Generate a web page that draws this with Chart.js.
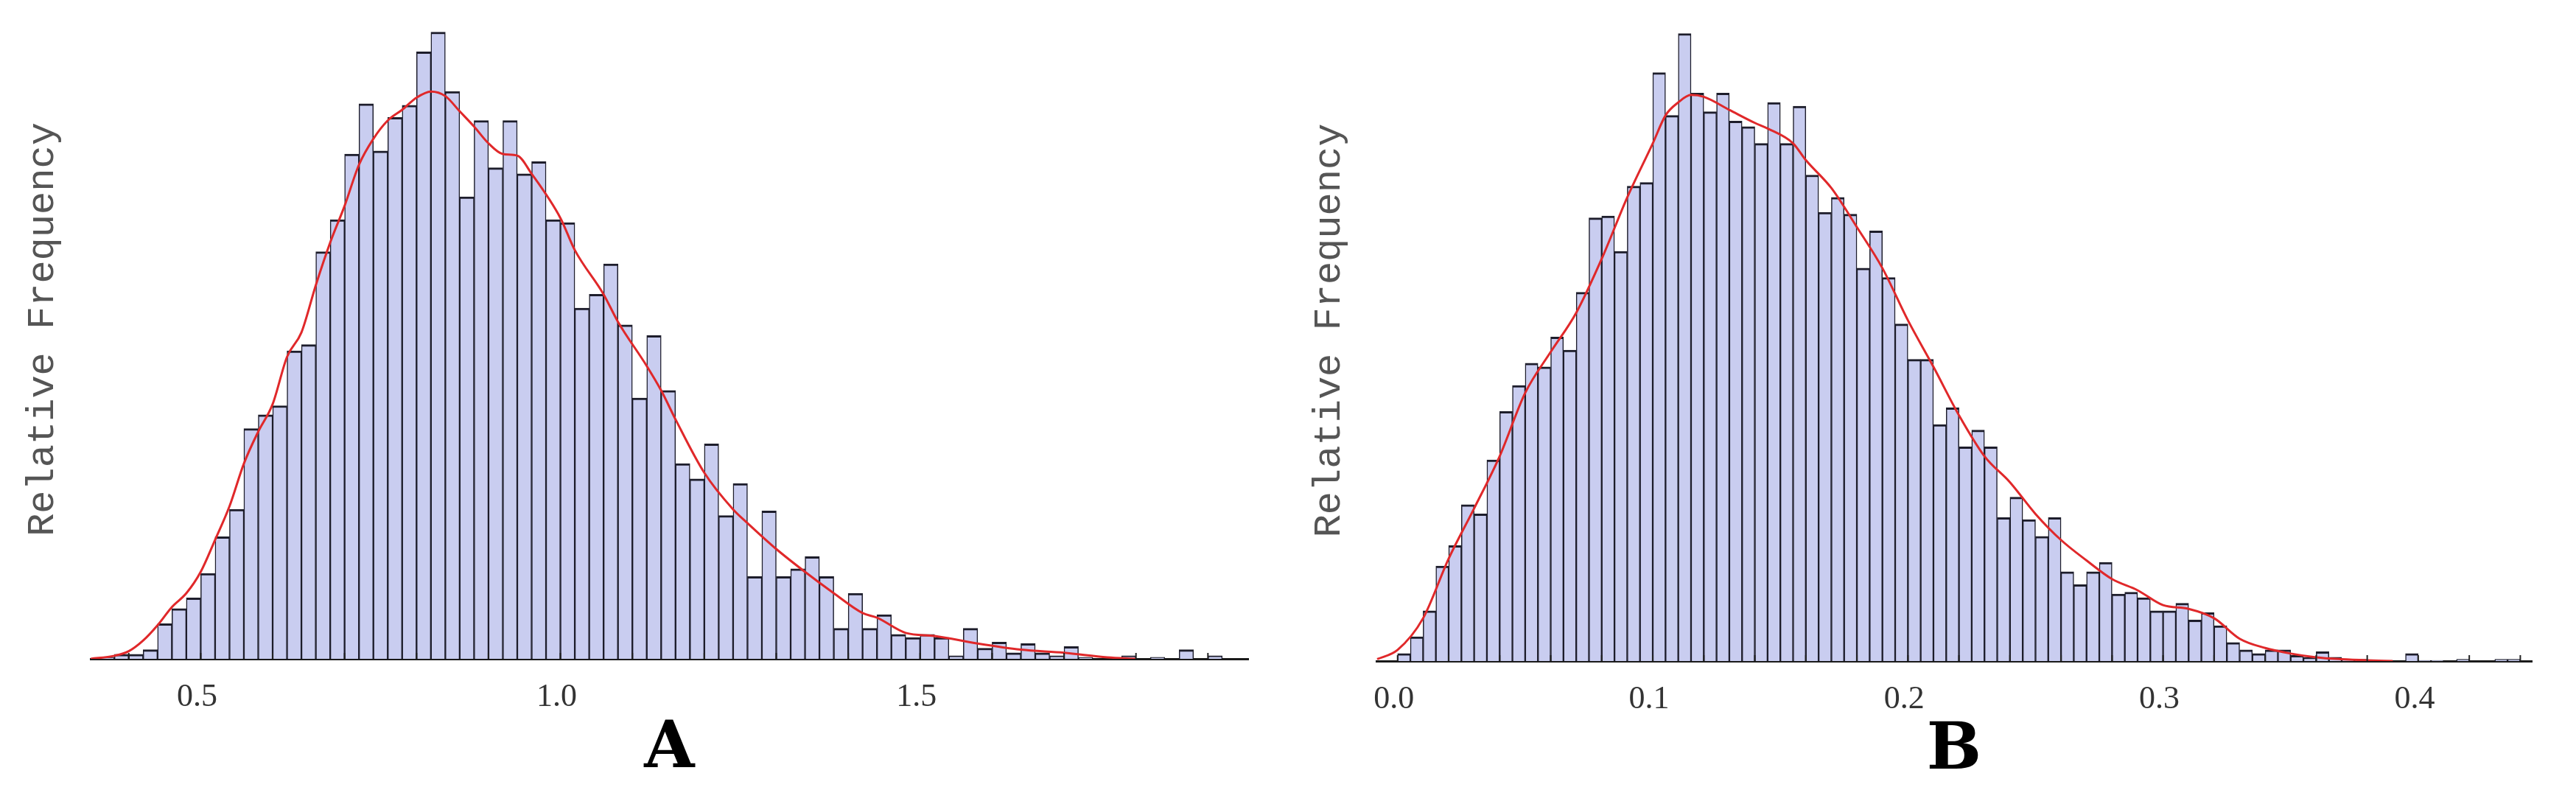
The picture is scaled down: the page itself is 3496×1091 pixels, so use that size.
<!DOCTYPE html>
<html>
<head>
<meta charset="utf-8">
<script src="https://cdn.jsdelivr.net/npm/chart.js@4.4.1/dist/chart.umd.min.js"></script>
<style>
body{margin:0;background:#fff;width:3496px;height:1091px;overflow:hidden;position:relative}
canvas{position:absolute;top:0}
#chartA{left:0}
#chartB{left:1745px}
</style>
</head>
<body>
<canvas id="chartA" width="1745" height="1091"></canvas>
<canvas id="chartB" width="1751" height="1091"></canvas>
<script>
// panel A : bins of 0.02 starting at 0.36, relative frequency in %
var binStartA = 0.36, binWidthA = 0.02;
var valuesA = [
  0.01,0.03,0.03,0.06,0.23,0.33,0.40,0.56,0.80,0.98,
  1.51,1.60,1.66,2.02,2.06,2.67,2.88,3.31,3.64,3.33,
  3.55,3.63,3.98,4.11,3.72,3.03,3.53,3.22,3.53,3.18,
  3.26,2.88,2.86,2.30,2.39,2.59,2.19,1.71,2.12,1.76,
  1.28,1.18,1.41,0.94,1.15,0.54,0.97,0.54,0.59,0.67,
  0.54,0.20,0.43,0.20,0.29,0.16,0.14,0.16,0.14,0.02,
  0.20,0.07,0.11,0.04,0.10,0.04,0.02,0.08,0.01,0,
  0,0.02,0,0.01,0,0.06,0,0.02
];
// smoothed density (red line)
var curveAX = [0.347,0.38,0.40,0.42,0.44,0.46,0.48,0.50,0.52,0.54,0.56,0.58,0.60,0.62,0.64,0.66,0.68,0.70,0.72,0.74,0.76,0.78,0.80,0.82,0.84,0.86,0.88,0.90,0.92,0.94,0.96,1.00,1.02,1.06,1.08,1.12,1.14,1.16,1.20,1.24,1.26,1.30,1.34,1.38,1.42,1.44,1.48,1.52,1.58,1.64,1.70,1.76,1.80];
var curveAY = [0,0.02,0.05,0.12,0.22,0.34,0.43,0.57,0.78,1.00,1.28,1.49,1.67,1.98,2.14,2.45,2.73,2.97,3.24,3.41,3.53,3.60,3.68,3.72,3.69,3.59,3.49,3.38,3.31,3.30,3.18,2.89,2.68,2.39,2.21,1.92,1.76,1.57,1.22,0.98,0.89,0.72,0.57,0.43,0.30,0.27,0.17,0.15,0.10,0.06,0.04,0.01,0];
var ticksA = [0.5, 1.0, 1.5];
var minorA = [0.4,0.5,0.6,0.7,0.8,0.9,1.0,1.1,1.2,1.3,1.4,1.5,1.6,1.7,1.8,1.9];

// panel B : bins of 0.005 starting at 0
var binStartB = 0, binWidthB = 0.005;
var valuesB = [
  0.04,0.13,0.27,0.51,0.62,0.84,0.79,1.08,1.34,1.48,
  1.60,1.58,1.74,1.67,1.98,2.38,2.39,2.20,2.55,2.57,
  3.16,2.93,3.37,3.05,2.95,3.05,2.90,2.87,2.78,3.00,
  2.78,2.98,2.61,2.41,2.49,2.40,2.11,2.31,2.06,1.81,
  1.62,1.62,1.27,1.36,1.15,1.24,1.15,0.77,0.88,0.76,
  0.67,0.77,0.48,0.41,0.48,0.53,0.36,0.37,0.34,0.27,
  0.27,0.31,0.22,0.26,0.19,0.10,0.06,0.04,0.06,0.06,
  0.03,0.02,0.05,0.02,0.01,0.01,0.004,0,0,0.04,
  0.004,0.004,0,0.01,0,0,0.01,0.01
];
var curveBX = [-0.008,0.0,0.01,0.02,0.03,0.04,0.05,0.06,0.07,0.08,0.09,0.10,0.105,0.11,0.115,0.12,0.13,0.14,0.145,0.155,0.16,0.17,0.18,0.19,0.20,0.21,0.22,0.23,0.24,0.25,0.26,0.27,0.28,0.29,0.30,0.31,0.32,0.33,0.34,0.35,0.36,0.37,0.38,0.39];
var curveBY = [0.01,0.06,0.23,0.55,0.82,1.10,1.44,1.66,1.87,2.16,2.49,2.78,2.93,3.00,3.04,3.03,2.96,2.89,2.86,2.78,2.69,2.54,2.33,2.11,1.83,1.58,1.32,1.10,0.96,0.79,0.65,0.54,0.44,0.38,0.30,0.28,0.23,0.12,0.07,0.04,0.02,0.01,0.004,0];
var ticksB = [0.0, 0.1, 0.2, 0.3, 0.4];
var minorB = [0,0.02,0.04,0.06,0.08,0.1,0.12,0.14,0.16,0.18,0.2,0.22,0.24,0.26,0.28,0.3,0.32,0.34,0.36,0.38,0.4,0.42,0.44];

// small tick marks pointing up from the axis, like the original
var upTicks = {
  id: 'upTicks',
  afterDatasetsDraw: function(chart, args, opts){
    var x = chart.scales.x, ctx = chart.ctx, base = chart.chartArea.bottom;
    ctx.save();
    ctx.strokeStyle = '#222';
    ctx.lineWidth = 2;
    opts.values.forEach(function(v){
      var px = x.getPixelForValue(v);
      ctx.beginPath();
      ctx.moveTo(px, base);
      ctx.lineTo(px, base - 8);
      ctx.stroke();
    });
    ctx.restore();
  }
};

function makeHist(id, o){
  var ctx = document.getElementById(id).getContext('2d');
  var bars = o.values.map(function(v, i){
    return {x: o.binStart + o.binWidth * (i + 0.5), y: v};
  });
  var curve = o.curveX.map(function(x, i){ return {x: x, y: o.curveY[i]}; });
  return new Chart(ctx, {
    type: 'bar',
    data: {
      datasets: [
        {type: 'line', data: curve, borderColor: '#e0282a', borderWidth: 3, pointRadius: 0,
          tension: 0.4, cubicInterpolationMode: 'monotone', order: 0},
        {type: 'bar', data: bars, backgroundColor: 'rgb(201,205,240)', borderColor: '#1d1d2b',
          borderWidth: {top: 3, left: 1.5, right: 1.5, bottom: 0}, borderSkipped: 'start',
          barPercentage: 1, categoryPercentage: 1, order: 1}
      ]
    },
    options: {
      responsive: false,
      animation: false,
      devicePixelRatio: 1,
      layout: {padding: {left: 0, right: o.padRight, top: 0, bottom: 0}},
      plugins: {legend: {display: false}, tooltip: {enabled: false}, upTicks: {values: o.minor}},
      scales: {
        x: {
          type: 'linear', min: o.xMin, max: o.xMax, offset: false,
          grid: {display: false, offset: false},
          border: {display: true, color: '#1a1a1a', width: 3},
          ticks: {font: {family: 'Liberation Serif', size: 44}, color: '#333', padding: 18,
            labelOffset: -5, maxRotation: 0, autoSkip: false,
            callback: function(v){ return Number(v).toFixed(1); }},
          afterBuildTicks: function(axis){
            axis.ticks = o.ticks.map(function(v){ return {value: v}; });
          },
          afterFit: function(axis){ axis.height = 1091 - o.baseline; },
          title: {display: true, text: o.label, color: '#000',
            font: {family: 'DejaVu Serif', size: 88, weight: 'bold'},
            padding: {top: 0, bottom: o.labelPad}}
        },
        y: {
          min: 0, max: o.yMax,
          grid: {display: false},
          border: {display: false},
          ticks: {display: false},
          title: {display: true, text: 'Relative Frequency', color: '#555',
            font: {family: 'Liberation Mono', size: 52},
            padding: {top: o.yTitlePad, bottom: 0}},
          afterFit: function(axis){ axis.width = 123; }
        }
      }
    },
    plugins: [upTicks]
  });
}

makeHist('chartA', {
  values: valuesA, binStart: binStartA, binWidth: binWidthA,
  curveX: curveAX, curveY: curveAY, ticks: ticksA, minor: minorA,
  xMin: 0.347, xMax: 1.956, yMax: 4.32, baseline: 894,
  padRight: 51, label: 'A', labelPad: 20, yTitlePad: 27
});
makeHist('chartB', {
  values: valuesB, binStart: binStartB, binWidth: binWidthB,
  curveX: curveBX, curveY: curveBY, ticks: ticksB, minor: minorB,
  xMin: -0.0083, xMax: 0.4445, yMax: 3.55, baseline: 897,
  padRight: 60, label: 'B', labelPad: 18, yTitlePad: 28
});
</script>
</body>
</html>
